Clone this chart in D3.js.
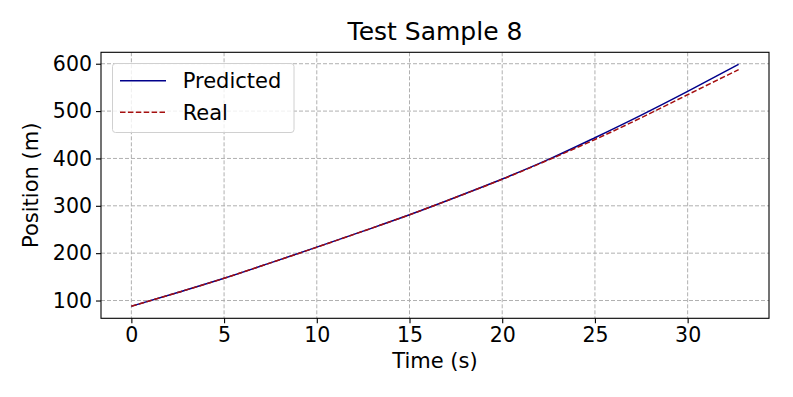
<!DOCTYPE html>
<html>
<head>
<meta charset="utf-8">
<script src="https://cdn.jsdelivr.net/npm/d3@7"></script>
<style>
  html, body { margin: 0; padding: 0; background: #fff; }
  svg { display: block; font-family: "DejaVu Sans", sans-serif; }
</style>
</head>
<body>
<svg id="chart" width="793" height="397"></svg>
<script>
// ---- data ----
const times     = [0, 2.5, 5, 7.5, 10, 12.5, 15, 17.5, 20, 22.5, 25, 27.5, 30, 32.75];
const predicted = [88, 117, 147, 179.5, 212.7, 246.5, 281, 318, 356.5, 398, 443.8, 491.5, 541.6, 598.6];
const real      = [88, 117, 147, 179.5, 212.5, 246.5, 281, 318, 356, 397, 440, 486, 534.6, 587.5];
const xTicks = [0, 5, 10, 15, 20, 25, 30];
const yTicks = [100, 200, 300, 400, 500, 600];
const titleText = "Test Sample 8";
const xLabel = "Time (s)";
const yLabel = "Position (m)";
const seriesNames = ["Predicted", "Real"];

// ---- layout ----
const svg = d3.select("#chart");
const L = 101, R = 769, T = 52.3, B = 318.3;

const tMin = d3.min(times), tMax = d3.max(times);
const xPad = (tMax - tMin) * 0.05;
const allY = predicted.concat(real);
const yMin = d3.min(allY), yMax = d3.max(allY);
const yPad = (yMax - yMin) * 0.05;

const x = d3.scaleLinear().domain([tMin - xPad, tMax + xPad]).range([L, R]);
const y = d3.scaleLinear().domain([yMin - yPad, yMax + yPad]).range([B, T]);

// grid
const grid = svg.append("g");
grid.selectAll(".gx").data(xTicks).enter().append("line")
  .attr("x1", d => x(d)).attr("x2", d => x(d))
  .attr("y1", T).attr("y2", B)
  .attr("stroke", "#b0b0b0").attr("stroke-width", 1).attr("stroke-dasharray", "4,2");
grid.selectAll(".gy").data(yTicks).enter().append("line")
  .attr("x1", L).attr("x2", R)
  .attr("y1", d => y(d)).attr("y2", d => y(d))
  .attr("stroke", "#b0b0b0").attr("stroke-width", 1).attr("stroke-dasharray", "4,2");

// lines
const pts = arr => arr.map((v, i) => [times[i], v]);
const line = d3.line().x(d => x(d[0])).y(d => y(d[1])).curve(d3.curveMonotoneX);

svg.append("path").attr("d", line(pts(predicted)))
  .attr("fill", "none").attr("stroke", "#00008b").attr("stroke-width", 1.5);
svg.append("path").attr("d", line(pts(real)))
  .attr("fill", "none").attr("stroke", "#a50f0f").attr("stroke-width", 1.5)
  .attr("stroke-dasharray", "5.5,2.4");

// axes
const xAxis = d3.axisBottom(x).tickValues(xTicks).tickSize(5).tickPadding(4).tickFormat(d3.format("d"));
const yAxis = d3.axisLeft(y).tickValues(yTicks).tickSize(5).tickPadding(4).tickFormat(d3.format("d"));

const gx = svg.append("g").attr("transform", `translate(0,${B})`).call(xAxis);
const gy = svg.append("g").attr("transform", `translate(${L},0)`).call(yAxis);
[gx, gy].forEach(g => {
  g.select(".domain").remove();
  g.selectAll("line").attr("stroke", "#000").attr("stroke-width", 1.1);
  g.selectAll("text").attr("fill", "#000").style("font-size", "20.5px")
    .style("font-family", "DejaVu Sans, sans-serif");
});

// frame
svg.append("rect").attr("x", L).attr("y", T).attr("width", R - L).attr("height", B - T)
  .attr("fill", "none").attr("stroke", "#000").attr("stroke-width", 1.1);

// title & labels
svg.append("text").attr("x", (L + R) / 2).attr("y", 40).attr("text-anchor", "middle")
  .style("font-size", "25px").text(titleText);
svg.append("text").attr("x", (L + R) / 2).attr("y", 368).attr("text-anchor", "middle")
  .style("font-size", "21px").text(xLabel);
svg.append("text").attr("transform", `translate(38,${(T + B) / 2}) rotate(-90)`)
  .attr("text-anchor", "middle").style("font-size", "21px").text(yLabel);

// legend
const lg = svg.append("g");
lg.append("rect").attr("x", 112.5).attr("y", 63.5).attr("width", 181.5).attr("height", 69)
  .attr("rx", 3).attr("fill", "#fff").attr("fill-opacity", 0.8)
  .attr("stroke", "#d0d0d0").attr("stroke-width", 1);
const legendItems = [
  {name: seriesNames[0], color: "#00008b", dash: null, yy: 80.7},
  {name: seriesNames[1], color: "#a50f0f", dash: "5.5,2.4", yy: 112.3}
];
legendItems.forEach(it => {
  lg.append("line").attr("x1", 120).attr("x2", 166).attr("y1", it.yy).attr("y2", it.yy)
    .attr("stroke", it.color).attr("stroke-width", 1.5)
    .attr("stroke-dasharray", it.dash);
  lg.append("text").attr("x", 182.7).attr("y", it.yy).attr("dy", "0.36em")
    .style("font-size", "21px").text(it.name);
});
</script>
</body>
</html>
